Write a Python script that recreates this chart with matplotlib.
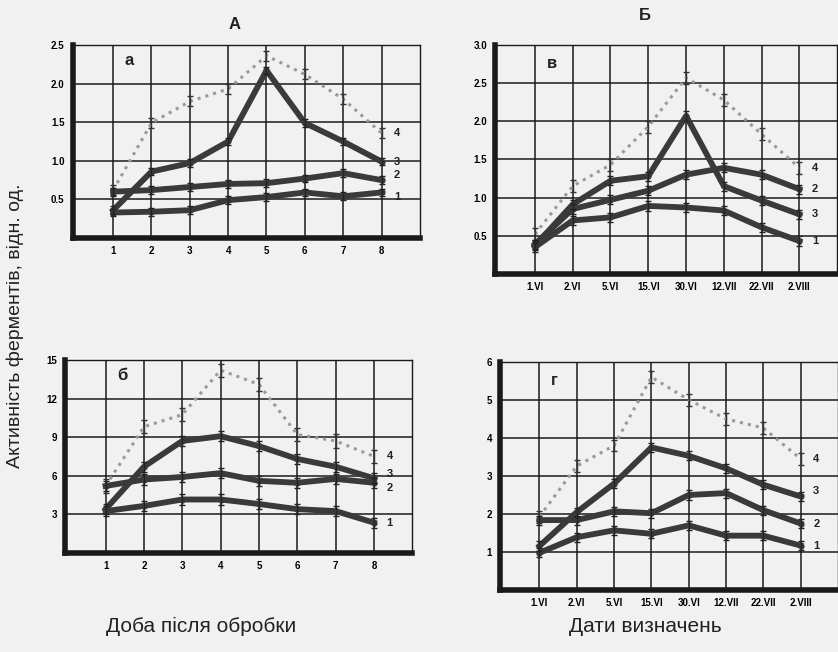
import matplotlib.pyplot as plt

plt.rcParams['font.family'] = ['Liberation Sans Narrow', 'Liberation Sans', 'DejaVu Sans']

# вісь X
days = [1, 2, 3, 4, 5, 6, 7, 8]
dates = ['1.VI', '2.VI', '5.VI', '15.VI', '30.VI', '12.VII', '22.VII', '2.VIII']

# панель а (доба після обробки)
a1 = [0.33, 0.34, 0.36, 0.49, 0.53, 0.59, 0.54, 0.59]
a2 = [0.60, 0.62, 0.66, 0.70, 0.71, 0.77, 0.84, 0.75]
a3 = [0.36, 0.86, 0.97, 1.25, 2.17, 1.49, 1.25, 0.99]
a4 = [0.62, 1.49, 1.77, 1.93, 2.36, 2.12, 1.80, 1.36]

# панель б
b1 = [3.25, 3.65, 4.15, 4.15, 3.80, 3.40, 3.25, 2.35]
b2 = [5.20, 5.70, 5.90, 6.20, 5.60, 5.45, 5.75, 5.45]
b3 = [3.40, 6.70, 8.70, 9.07, 8.30, 7.30, 6.70, 5.80]
b4 = [5.20, 9.80, 10.75, 14.2, 13.1, 9.20, 8.70, 7.50]

# панель в (дати визначень)
v1 = [0.35, 0.70, 0.74, 0.89, 0.87, 0.83, 0.61, 0.43]
v2 = [0.39, 0.85, 0.97, 1.09, 1.30, 1.39, 1.30, 1.11]
v3 = [0.37, 0.91, 1.22, 1.28, 2.07, 1.15, 0.96, 0.78]
v4 = [0.52, 1.15, 1.43, 1.93, 2.57, 2.28, 1.83, 1.39]

# панель г
g1 = [0.98, 1.39, 1.57, 1.48, 1.70, 1.43, 1.43, 1.17]
g2 = [1.84, 1.84, 2.07, 2.02, 2.50, 2.55, 2.10, 1.75]
g3 = [1.16, 2.05, 2.80, 3.75, 3.53, 3.20, 2.77, 2.46]
g4 = [1.93, 3.26, 3.80, 5.60, 5.00, 4.50, 4.26, 3.45]

bg = '#f1f1f1'
fig = plt.figure(figsize=(8.38, 6.52), dpi=100, facecolor=bg)


def panel(rect, series, xlabels, ymax, ystep, letter, err, lab_off):
    ax = fig.add_axes(rect, facecolor=bg)
    x = list(range(1, 9))
    for i, s in enumerate(series):
        if i == 3:
            ax.plot(x, s, ls=':', color='#9a9a9a', lw=2.2, zorder=2)
            ax.errorbar(x, s, yerr=err * 1.3, fmt='none', ecolor='#333333',
                        elinewidth=1, capsize=2.5, zorder=3)
        else:
            ax.plot(x, s, color='#3a3a3a', lw=4.2, marker='o', ms=3.5,
                    solid_joinstyle='round', zorder=4)
            ax.errorbar(x, s, yerr=err, fmt='none', ecolor='#222222',
                        elinewidth=0.9, capsize=2, zorder=5)
        ax.annotate(str(i + 1), (8, s[-1]), xytext=(9, lab_off[i]),
                    textcoords='offset points', fontsize=8, fontweight='bold',
                    va='center', color='#222222')
    ax.set_xlim(-0.05, 9)
    ax.set_ylim(0, ymax)
    ax.set_xticks(x)
    ax.set_xticklabels(xlabels, fontsize=7, fontweight='bold')
    yt = [ystep * k for k in range(1, int(round(ymax / ystep)) + 1)]
    ax.set_yticks(yt)
    if ystep < 1:
        ax.set_yticklabels(['%.1f' % t for t in yt], fontsize=7, fontweight='bold')
    else:
        ax.set_yticklabels(['%d' % t for t in yt], fontsize=7, fontweight='bold')
    ax.tick_params(length=0, pad=6)
    ax.grid(True, color='#1a1a1a', lw=1.1)
    ax.set_axisbelow(True)
    for side in ['left', 'bottom']:
        ax.spines[side].set_linewidth(4)
        ax.spines[side].set_color('#1a1a1a')
    for side in ['top', 'right']:
        ax.spines[side].set_linewidth(1)
        ax.spines[side].set_color('#1a1a1a')
    ax.text(0.15, 0.92, letter, transform=ax.transAxes, fontsize=12,
            fontweight='bold', ha='left', va='center', color='#222222')
    return ax


panel([0.087, 0.635, 0.414, 0.296], [a1, a2, a3, a4], [str(d) for d in days],
      2.5, 0.5, 'а', 0.05, [-3, 4, 0, 0])
panel([0.591, 0.580, 0.408, 0.351], [v1, v2, v3, v4], dates,
      3.0, 0.5, 'в', 0.06, [0, 0, 0, 0])
panel([0.078, 0.152, 0.414, 0.296], [b1, b2, b3, b4], [str(d) for d in days],
      15, 3, 'б', 0.4, [0, -4, 3, 0])
panel([0.597, 0.095, 0.403, 0.350], [g1, g2, g3, g4], dates,
      6, 1, 'г', 0.12, [0, 0, 4, 0])

fig.text(0.28, 0.955, 'А', fontsize=12, fontweight='bold', ha='center', color='#222222')
fig.text(0.77, 0.97, 'Б', fontsize=12, fontweight='bold', ha='center', color='#222222')
fig.text(0.018, 0.50, 'Активність ферментів, відн. од.', rotation=90,
         fontsize=14, ha='center', va='center', color='#222222')
fig.text(0.24, 0.03, 'Доба після обробки', fontsize=15, ha='center', color='#222222')
fig.text(0.77, 0.03, 'Дати визначень', fontsize=15, ha='center', color='#222222')

plt.savefig('out.png', dpi=100, facecolor=bg)
